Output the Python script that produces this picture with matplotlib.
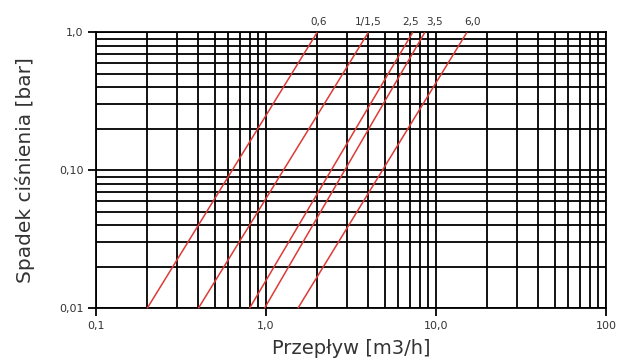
import matplotlib
matplotlib.use("Agg")
import matplotlib.pyplot as plt
from matplotlib.ticker import FixedLocator, LogLocator, NullFormatter

# Data: each curve defined by flow at 0.01 bar and at 1.0 bar
labels = ["0,6", "1/1,5", "2,5", "3,5", "6,0"]
q_low = [0.2, 0.4, 0.80, 0.98, 1.54]
q_high = [2.0, 4.0, 7.3, 8.6, 15.2]
dp_low = 0.01
dp_high = 1.0

xticks = [0.1, 1.0, 10.0, 100.0]
xticklabels = ["0,1", "1,0", "10,0", "100"]
yticks = [0.01, 0.1, 1.0]
yticklabels = ["0,01", "0,10", "1,0"]

label_dx = [1, 0, -2, 10, 6]  # pixel offsets for curve labels

fig = plt.figure(figsize=(6.21, 3.61), dpi=100)
ax = fig.add_axes([96/621, 1-308.3/361, 510/621, 276/361])
ax.set_xscale("log")
ax.set_yscale("log")
ax.set_xlim(0.1, 100)
ax.set_ylim(0.01, 1.0)

ax.xaxis.set_major_locator(FixedLocator(xticks))
ax.xaxis.set_minor_locator(LogLocator(base=10, subs=range(2, 10)))
ax.yaxis.set_major_locator(FixedLocator(yticks))
ax.yaxis.set_minor_locator(LogLocator(base=10, subs=range(2, 10)))
ax.xaxis.set_minor_formatter(NullFormatter())
ax.yaxis.set_minor_formatter(NullFormatter())
ax.set_xticklabels(xticklabels)
ax.set_yticklabels(yticklabels)

ax.grid(True, which="both", color="black", linewidth=1.3)
ax.set_axisbelow(True)
ax.tick_params(which="major", direction="out", length=6, width=1.3,
               colors="black", labelsize=8, labelcolor="#333333", pad=3)
ax.tick_params(which="minor", length=0)
for s in ax.spines.values():
    s.set_color("black")
    s.set_linewidth(1.3)

for lab, ql, qh, dx in zip(labels, q_low, q_high, label_dx):
    ax.plot([ql, qh], [dp_low, dp_high], color="#dd3b35", linewidth=1.1,
            solid_capstyle="butt", clip_on=False, zorder=3)
    ax.annotate(lab, xy=(qh, dp_high), xytext=(dx * 0.72, 4),
                textcoords="offset points", ha="center", va="bottom",
                fontsize=7.5, color="#333333", annotation_clip=False)

ax.set_xlabel("Przepływ [m3/h]", fontsize=14, color="#333333", labelpad=6)
ax.set_ylabel("Spadek ciśnienia [bar]", fontsize=14.5, color="#333333", labelpad=17)

fig.savefig("out.png", dpi=100, facecolor="white")
